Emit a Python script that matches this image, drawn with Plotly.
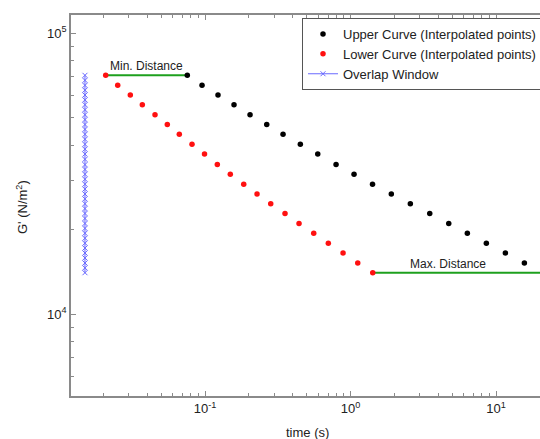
import plotly.graph_objects as go

# ---- data ----
upper_t = [0.07555, 0.09537, 0.1228, 0.1582, 0.2039, 0.2655, 0.3437, 0.4519, 0.5951, 0.7951,
           1.057, 1.416, 1.907, 2.576, 3.502, 4.730, 6.349, 8.577, 11.59, 15.65]
upper_g = [70880, 65280, 60320, 55700, 51320, 47360, 43710, 40270, 37170, 34100,
           31500, 29040, 26800, 24750, 22850, 21050, 19430, 17910, 16530, 15230]

lower_t = [0.02077, 0.02512, 0.03066, 0.03708, 0.04532, 0.05506, 0.06658, 0.08139, 0.09921, 0.1215,
           0.1492, 0.1845, 0.2277, 0.2828, 0.3546, 0.4426, 0.5585, 0.7036, 0.8882, 1.121, 1.421]
lower_g = [70880, 65280, 60320, 55700, 51320, 47360, 43710, 40270, 37170, 34100,
           31500, 29040, 26800, 24750, 22850, 21050, 19430, 17910, 16530, 15230, 14060]

overlap_t = [0.01496] * 41
overlap_g = [70880, 68020, 65280, 62750, 60320, 57960, 55700, 53470, 51320, 49300,
             47360, 45500, 43710, 41950, 40270, 38690, 37170, 35600, 34100, 32770,
             31500, 30240, 29040, 27900, 26800, 25750, 24750, 23780, 22850, 21930,
             21050, 20220, 19430, 18650, 17910, 17210, 16530, 15870, 15230, 14630, 14060]

min_dist_t = [0.02077, 0.07555]
min_dist_g = [70880, 70880]
max_dist_t = [1.421, 40.0]
max_dist_g = [14060, 14060]

x_tickvals = [0.1, 1, 10]
x_ticktext = ["10<sup>-1</sup>", "10<sup>0</sup>", "10<sup>1</sup>"]
y_tickvals = [1e4, 1e5]
y_ticktext = ["10<sup>4</sup>", "10<sup>5</sup>"]

FONT = "Arial, Liberation Sans, sans-serif"
AX = "#8a8a8a"

fig = go.Figure()
fig.add_trace(go.Scatter(x=min_dist_t, y=min_dist_g, mode="lines",
                         line=dict(color="#1ea01e", width=2), showlegend=False, hoverinfo="skip"))
fig.add_trace(go.Scatter(x=max_dist_t, y=max_dist_g, mode="lines",
                         line=dict(color="#1ea01e", width=2), showlegend=False, hoverinfo="skip"))
fig.add_trace(go.Scatter(x=upper_t, y=upper_g, mode="markers", name="Upper Curve (Interpolated points)",
                         marker=dict(color="black", size=5.5)))
fig.add_trace(go.Scatter(x=lower_t, y=lower_g, mode="markers", name="Lower Curve (Interpolated points)",
                         marker=dict(color="#ff1010", size=5.5)))
fig.add_trace(go.Scatter(x=overlap_t, y=overlap_g, mode="lines+markers", name="Overlap Window",
                         line=dict(color="#6a6aff", width=1),
                         marker=dict(symbol="x-thin", size=5, color="#6a6aff",
                                     line=dict(color="#6a6aff", width=1))))

minor_x = [m * 10 ** e for e in (-2, -1, 0, 1) for m in range(2, 10)]
minor_y = [m * 10 ** e for e in (3, 4) for m in range(2, 10)]

fig.update_xaxes(type="log", range=[-1.921, 1.302], showgrid=False, zeroline=False,
                 showline=True, linecolor=AX, linewidth=1.5, mirror="ticks",
                 ticks="inside", ticklen=5, tickcolor=AX, tickwidth=1,
                 tickvals=x_tickvals, ticktext=x_ticktext,
                 tickfont=dict(family=FONT, size=13, color="#222"),
                 minor=dict(tickvals=minor_x, ticks="inside", ticklen=3, tickcolor=AX, showgrid=False))
fig.update_yaxes(type="log", range=[3.7093, 5.0651], showgrid=False, zeroline=False,
                 showline=True, linecolor=AX, linewidth=1.5, mirror=False,
                 ticks="inside", ticklen=5, tickcolor=AX, tickwidth=1,
                 tickvals=y_tickvals, ticktext=y_ticktext,
                 tickfont=dict(family=FONT, size=13, color="#222"),
                 minor=dict(tickvals=minor_y, ticks="inside", ticklen=3, tickcolor=AX, showgrid=False))

plot_w = 540 - 71
plot_h = 439 - 15 - 43

fig.add_annotation(text="Min. Distance", x=0.5 * (-1.6825 + -1.1216), y=4.8505,
                   xref="x", yref="y", showarrow=False, yshift=9,
                   font=dict(family=FONT, size=12, color="#222"))
fig.add_annotation(text="Max. Distance", x=0.6685, y=4.148, xref="x", yref="y",
                   showarrow=False, yshift=9, font=dict(family=FONT, size=12, color="#222"))
fig.add_annotation(text="time (s)", x=(307 - 71) / plot_w, y=(396 - 433) / plot_h,
                   xref="paper", yref="paper", yanchor="middle",
                   showarrow=False, font=dict(family=FONT, size=13, color="#222"))
fig.add_annotation(text="G' (N/m<sup>2</sup>)", textangle=-90, x=(22 - 71) / plot_w,
                   y=(396 - 207) / plot_h, xanchor="center",
                   xref="paper", yref="paper", showarrow=False,
                   font=dict(family=FONT, size=13, color="#222"))

fig.update_layout(
    width=540, height=439,
    margin=dict(l=71, r=0, t=15, b=43, autoexpand=False),
    paper_bgcolor="white", plot_bgcolor="white",
    font=dict(family=FONT, size=13, color="#222"),
    legend=dict(x=(302 - 71) / plot_w, y=(396 - 18) / plot_h, xanchor="left", yanchor="top",
                bgcolor="white", bordercolor="#555", borderwidth=1,
                font=dict(family=FONT, size=13, color="#222"),
                tracegroupgap=0, itemwidth=30),
)

fig.write_html("out.html")
